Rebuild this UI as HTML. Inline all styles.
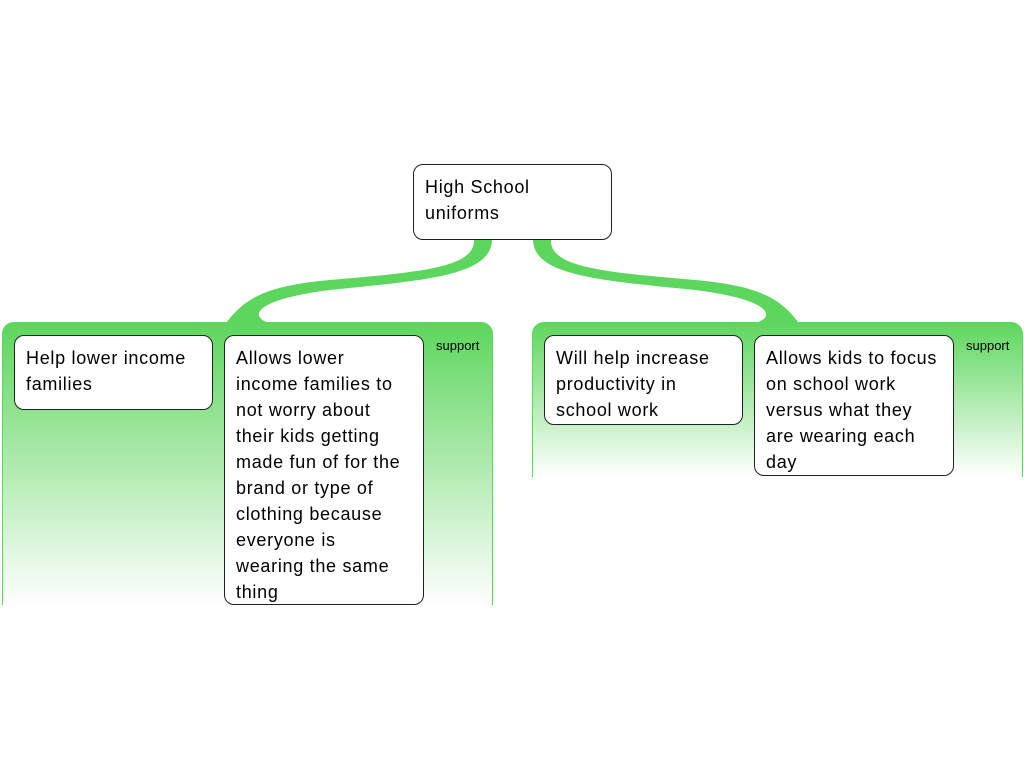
<!DOCTYPE html>
<html><head><style>
body{margin:0;width:1024px;height:768px;background:#fff;position:relative;overflow:hidden;font-family:"Liberation Sans",sans-serif}
.p{position:absolute;top:322px;border-radius:12px 12px 0 0;background:linear-gradient(#5cd65c,#fff);border-left:1px solid #5cd65c;border-right:1px solid #5cd65c;box-sizing:border-box}
.n{position:absolute;background:#fff;border:1px solid #222;border-radius:10px;box-sizing:border-box;padding:9px 11px;font-size:18px;line-height:26px;color:#000;letter-spacing:0.7px;white-space:nowrap}
.s{position:absolute;top:338px;font-size:13px;color:#000}
</style></head><body>
<div class="p" style="left:2px;width:491px;height:283px"></div>
<div class="p" style="left:532px;width:491px;height:155px"></div>
<svg width="1024" height="768" style="position:absolute;left:0;top:0">
<g fill="#5cd65c">
<path d="M474 239 C476 268,420 272,330 280 C262 286,244 300,226 323 L270 323 C250 318,250 300,330 290 C430 280,492 275,492 239 Z"/>
<path transform="translate(1025,0) scale(-1,1)" d="M474 239 C476 268,420 272,330 280 C262 286,244 300,226 323 L270 323 C250 318,250 300,330 290 C430 280,492 275,492 239 Z"/>
</g></svg>
<div class="n" style="left:413px;top:164px;width:199px;height:76px">High School<br>uniforms</div>
<div class="n" style="left:14px;top:335px;width:199px;height:75px">Help lower income<br>families</div>
<div class="n" style="left:224px;top:335px;width:200px;height:270px">Allows lower<br>income families to<br>not worry about<br>their kids getting<br>made fun of for the<br>brand or type of<br>clothing because<br>everyone is<br>wearing the same<br>thing</div>
<div class="n" style="left:544px;top:335px;width:199px;height:90px">Will help increase<br>productivity in<br>school work</div>
<div class="n" style="left:754px;top:335px;width:200px;height:141px">Allows kids to focus<br>on school work<br>versus what they<br>are wearing each<br>day</div>
<div class="s" style="left:436px">support</div>
<div class="s" style="left:966px">support</div>
</body></html>
